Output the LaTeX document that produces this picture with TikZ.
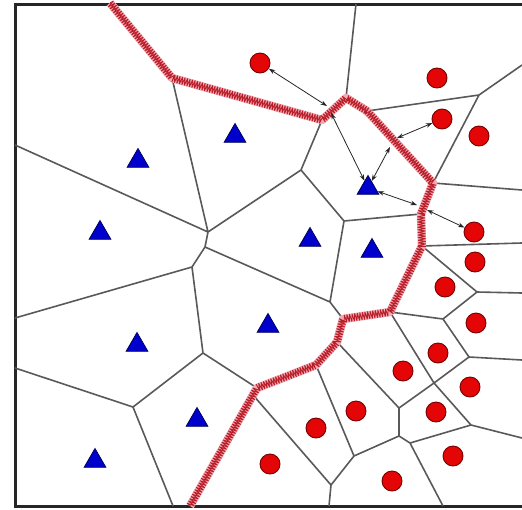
\documentclass[tikz,border=0pt]{standalone}
\usetikzlibrary{arrows.meta, shapes.geometric, decorations.pathmorphing}
\definecolor{ptred}{RGB}{228,6,6}
\definecolor{ptblue}{RGB}{0,0,205}
\definecolor{bndred}{RGB}{185,30,40}
\definecolor{bndpink}{RGB}{242,170,180}

\begin{document}
\begin{tikzpicture}[
    x=1pt, y=-1pt,
    >=Stealth,
    redpt/.style={circle, draw=black!55!red, fill=ptred, line width=0.9pt,
                  minimum size=20pt, inner sep=0pt},
    bluept/.style={regular polygon, regular polygon sides=3, draw=ptblue!45!black,
                   fill=ptblue, line width=0.8pt, minimum size=25pt, inner sep=0pt, yshift=-3pt},
    cell/.style={draw=black!65, line width=1.6pt},
    frame/.style={draw=black!85, line width=3pt},
    bnd/.style={draw=bndpink, line width=8.5pt, line join=round,
                postaction={draw=bndred, line width=0.9pt, decorate,
                            decoration={zigzag, segment length=2.6pt, amplitude=3.6pt}}},
    dist/.style={{Stealth[length=6.5pt,width=4.5pt]}-{Stealth[length=6.5pt,width=4.5pt]},
                 line width=0.8pt, black!85},
]
\useasboundingbox (0,0) rectangle (522,509);
% === Frame (open on the right) ===
\coordinate (ftr) at (522,4);
\coordinate (ftl) at (15,4);
\coordinate (fbl) at (15,506);
\coordinate (fbr) at (522,506);
\draw[frame] (ftr) -- (ftl) -- (fbl) -- (fbr);
% === Decision boundary corners ===
\coordinate (rb0) at (110,3);
\coordinate (rb1) at (172,78);
\coordinate (rb2) at (322,120);
\coordinate (rb3) at (346,98);
\coordinate (rb3b) at (367,111);
\coordinate (rb4) at (433,183);
\coordinate (rb5) at (421,214);
\coordinate (rb6) at (422,246);
\coordinate (rb7) at (390,312);
\coordinate (rb8) at (343,319);
\coordinate (rb9) at (337,342);
\coordinate (rb10) at (316,365);
\coordinate (rb11) at (257,388);
\coordinate (rb11b) at (253,395);
\coordinate (rb12) at (190,506);
% === Cell ends on the frame ===
\coordinate (w1) at (15,145);
\coordinate (w2) at (15,318);
\coordinate (w3) at (15,368);
\coordinate (n1) at (356,4);
\coordinate (s1) at (173,506);
\coordinate (s2) at (329,506);
\coordinate (s3) at (443,506);
\coordinate (e1) at (522,65);
\coordinate (e2) at (522,190);
\coordinate (e3) at (522,243);
\coordinate (e4) at (522,293);
\coordinate (e5) at (522,360);
\coordinate (e6) at (522,438);
% === Cell vertices ===
\coordinate (va) at (208,232);
\coordinate (vb) at (205,247);
\coordinate (vc) at (301,170);
\coordinate (vd) at (330,302);
\coordinate (ve) at (192,267);
\coordinate (vf) at (203,353);
\coordinate (vg) at (133,407);
\coordinate (vh) at (344,221);
\coordinate (vi) at (479,95);
\coordinate (vj) at (477,292);
\coordinate (vk) at (443,319);
\coordinate (vl) at (469,357);
\coordinate (vm) at (434,383);
\coordinate (vn) at (471,425);
\coordinate (vo) at (399,408);
\coordinate (vp) at (399,436);
\coordinate (vq) at (410,443);
\coordinate (vr) at (354,456);
\coordinate (vs) at (331,485);
% Voronoi cells, triangle side
\draw[cell] (w1) -- (va) (rb1) -- (va) -- (vc) (va) -- (vb) -- (vd)
            (vb) -- (ve) -- (w2) (ve) -- (vf) -- (rb11) (vf) -- (vg) -- (w3)
            (vg) -- (s1) (vc) -- (rb2) (vc) -- (vh) -- (rb5) (vh) -- (vd) -- (rb8);
% Voronoi cells, circle side
\draw[cell] (n1) -- (rb3) (rb3b) -- (vi) -- (e1) (vi) -- (rb4) -- (e2)
            (rb6) -- (e3) (rb6) -- (vj) -- (e4) (vj) -- (vk) -- (rb7)
            (vk) -- (vl) -- (e5) (vl) -- (vm) -- (rb7) (vm) -- (vn) -- (e6)
            (vm) -- (vo) -- (rb9) (vo) -- (vp) -- (vq) -- (vn) (vq) -- (s3)
            (vp) -- (vr) -- (rb10) (vr) -- (vs) -- (rb11b) (vs) -- (s2);
% === Decision boundary ===
\draw[bnd] (rb0) -- (rb1) -- (rb2) -- (rb3) -- (rb3b) -- (rb4) -- (rb5) -- (rb6)
           -- (rb7) -- (rb8) -- (rb9) -- (rb10) -- (rb11) -- (rb12);
% === Class: circles ===
\node[redpt] (r1) at (260,63) {};
\node[redpt] (r2) at (437,78) {};
\node[redpt] (r3) at (442,119) {};
\node[redpt] (r4) at (479,136) {};
\node[redpt] (r5) at (474,232) {};
\node[redpt] (r6) at (475,262) {};
\node[redpt] (r7) at (445,287) {};
\node[redpt] (r8) at (476,323) {};
\node[redpt] (r9) at (438,353) {};
\node[redpt] (r10) at (403,371) {};
\node[redpt] (r11) at (470,387) {};
\node[redpt] (r12) at (356,411) {};
\node[redpt] (r13) at (436,412) {};
\node[redpt] (r14) at (316,428) {};
\node[redpt] (r15) at (453,456) {};
\node[redpt] (r16) at (270,464) {};
\node[redpt] (r17) at (392,481) {};
% === Class: triangles ===
\node[bluept] (b1) at (138,158) {};
\node[bluept] (b2) at (235,133) {};
\node[bluept] (b3) at (100,230) {};
\node[bluept] (b4) at (368,185) {};
\node[bluept] (b5) at (310,237) {};
\node[bluept] (b6) at (372,248) {};
\node[bluept] (b7) at (268,323) {};
\node[bluept] (b8) at (137,342) {};
\node[bluept] (b9) at (197,417) {};
\node[bluept] (b10) at (95,458) {};
% === Distances to the boundary ===
\coordinate (m1) at (327,106);
\coordinate (m2) at (331,113);
\coordinate (m3) at (397,138);
\coordinate (m4) at (390,147);
\coordinate (m5) at (417,205);
\coordinate (m6) at (427,210);
\draw[dist] (r1) -- (m1);
\draw[dist] (m2) -- (b4);
\draw[dist] (r3) -- (m3);
\draw[dist] (b4) -- (m4);
\draw[dist] (b4) -- (m5);
\draw[dist] (r5) -- (m6);
\end{tikzpicture}
\end{document}
